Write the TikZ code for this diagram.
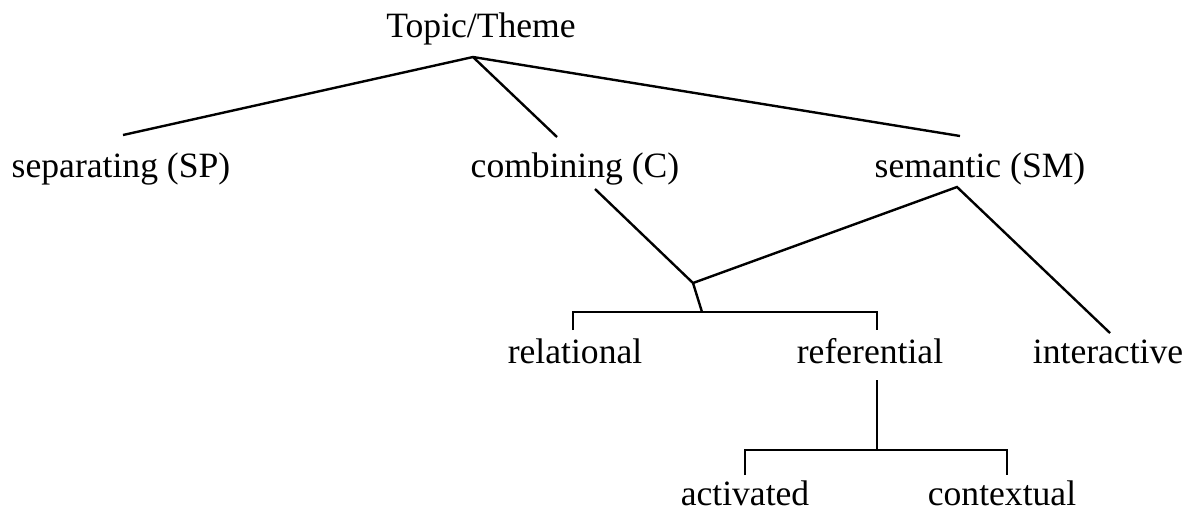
\documentclass[tikz,border=0pt]{standalone}
\usepackage{fontspec}
\setmainfont{Liberation Serif}
\begin{document}
\begin{tikzpicture}[x=0.5pt,y=-0.5pt,line width=1.2pt]
\tikzstyle{every node}+=[inner sep=0pt]
\tikzstyle{term}=[anchor=base,font=\fontsize{17.8}{21}\selectfont]
\useasboundingbox (0,0) rectangle (1187,511);
% labels
\node [term] (topic) at (481,37) {Topic/Theme};
\node [term] (sep) at (121,177) {separating (SP)};
\node [term] (comb) at (575,177) {combining (C)};
\node [term] (sem) at (980,177) {semantic (SM)};
\node [term] (rel) at (575,363) {relational};
\node [term] (ref) at (870,363) {referential};
\node [term] (inter) at (1108,363) {interactive};
\node [term] (act) at (745,505) {activated};
\node [term] (ctx) at (1002,505) {contextual};
% junctions and line ends
\coordinate (apex) at (473,57);
\coordinate (sep-up) at (123,135);
\coordinate (comb-up) at (557,137);
\coordinate (sem-up) at (960,136);
\coordinate (comb-down) at (595,189);
\coordinate (sem-down) at (957,187);
\coordinate (join) at (693,283);
\coordinate (inter-up) at (1110,333);
\coordinate (bar1) at (702,312);
\coordinate (rel-up) at (573,330);
\coordinate (ref-up) at (877,330);
\coordinate (ref-down) at (877,380);
\coordinate (bar2) at (877,450);
\coordinate (act-up) at (745,475);
\coordinate (ctx-up) at (1007,475);
% tree
\draw (sep-up) -- (apex) -- (sem-up);
\draw (apex) -- (comb-up);
\draw (comb-down) -- (join) -- (sem-down) -- (inter-up);
\draw (join) -- (bar1);
\draw (rel-up) |- (bar1) -| (ref-up);
\draw (ref-down) -- (bar2);
\draw (act-up) |- (bar2) -| (ctx-up);
\end{tikzpicture}
\end{document}
